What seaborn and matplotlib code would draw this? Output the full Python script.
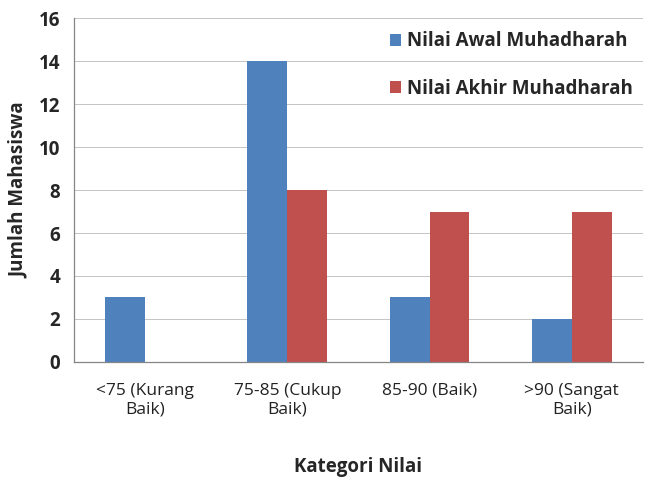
import pandas as pd
import matplotlib.pyplot as plt
import seaborn as sns

# chart values
categories = ['<75 (Kurang\nBaik)', '75-85 (Cukup\nBaik)', '85-90 (Baik)', '>90 (Sangat\nBaik)']
series_names = ['Nilai Awal Muhadharah', 'Nilai Akhir Muhadharah']
nilai_awal = [3, 14, 3, 2]
nilai_akhir = [0, 8, 7, 7]
y_ticks = [0, 2, 4, 6, 8, 10, 12, 14, 16]

rows = []
for cat, a, b in zip(categories, nilai_awal, nilai_akhir):
    rows.append({'Kategori': cat, 'Seri': series_names[0], 'Jumlah': a})
    rows.append({'Kategori': cat, 'Seri': series_names[1], 'Jumlah': b})
df = pd.DataFrame(rows)

sns.set_style('white')
plt.rcParams['font.family'] = ['Open Sans', 'DejaVu Sans']

fig = plt.figure(figsize=(6.45, 4.79), dpi=100)
ax = fig.add_axes([0.1147, 0.2443, 0.882, 0.718])

sns.barplot(data=df, x='Kategori', y='Jumlah', hue='Seri', order=categories,
            hue_order=series_names, palette=['#4F81BD', '#C0504D'],
            width=0.56, gap=0, saturation=1, linewidth=0, ax=ax)

ax.set_ylim(0, 16)
ax.set_xlim(-0.5, len(categories) - 0.5)
ax.set_yticks(y_ticks)
ax.set_yticklabels([str(t) for t in y_ticks], fontsize=13.5, fontweight='bold')
ax.yaxis.grid(True, color='#c4c4c4', linewidth=0.7)
ax.set_axisbelow(True)

# category boundaries get the tick marks, labels stay centred
ax.set_xticks(range(len(categories)))
ax.set_xticklabels(categories, fontsize=12.5, color='#222222', linespacing=1.25,
                   ha='center', multialignment='center')
ax.set_xticks([i - 0.5 for i in range(len(categories) + 1)], minor=True)
ax.tick_params(axis='x', which='major', length=0, pad=15)
ax.tick_params(axis='x', which='minor', length=5, color='#868686', width=0.9, direction='out')
ax.tick_params(axis='y', length=6, color='#868686', width=0.9, direction='out', pad=4)

for side in ['top', 'right']:
    ax.spines[side].set_visible(False)
for side in ['left', 'bottom']:
    ax.spines[side].set_color('#868686')
    ax.spines[side].set_linewidth(0.9)

ax.set_xlabel('Kategori Nilai', fontsize=13.5, fontweight='bold', labelpad=28)
ax.set_ylabel('Jumlah Mahasiswa', fontsize=13.5, fontweight='bold', labelpad=7)

leg = ax.legend(loc='upper right', bbox_to_anchor=(1.012, 1.01), frameon=False,
                prop={'size': 13.5, 'weight': 'bold'}, labelspacing=1.45,
                handlelength=0.6, handleheight=0.6, handletextpad=0.3)

plt.savefig('out.png', dpi=100)
plt.close()
